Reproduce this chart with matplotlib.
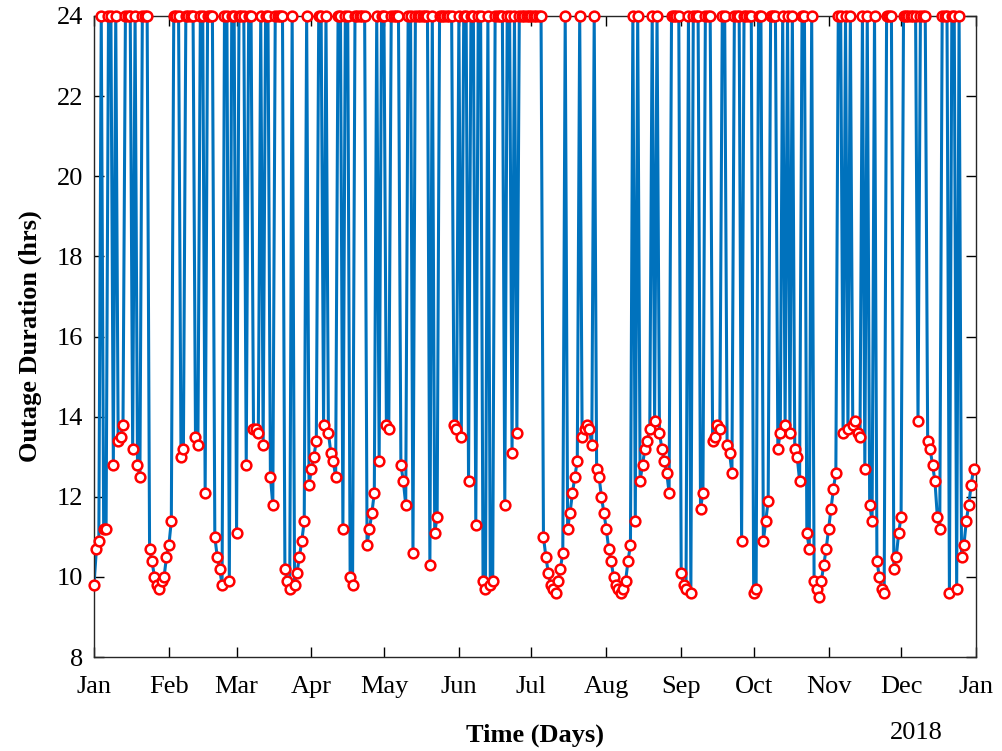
import numpy as np
import matplotlib
matplotlib.use("Agg")
import matplotlib.pyplot as plt

plt.rcParams['font.family'] = ['Liberation Serif', 'DejaVu Serif']

jan = [9.8, 10.7, 10.9, 24, 11.2, 11.2, 24, 24, 12.8, 24, 13.4, 13.5, 13.8, 24, 24, 24,
       13.2, 24, 12.8, 12.5, 24, 24, 24, 10.7, 10.4, 10.0, 9.8, 9.7, 9.9, 10.0, 10.5]
feb = [10.8, 11.4, 24, 24, 24, 13.0, 13.2, 24, 24, 24, 24, 13.5, 13.3, 24, 24, 12.1,
       24, 24, 24, 11.0, 10.5, 10.2, 9.8, 24, 24, 9.9, 24, 24]
mar = [11.1, 24, 24, 24, 12.8, 24, 24, 13.7, 13.7, 13.6, 24, 13.3, 24, 24, 12.5, 11.8,
       24, 24, 24, 24, 10.2, 9.9, 9.7, 24, 9.8, 10.1, 10.5, 10.9, 11.4, 24, 12.3]
apr = [12.7, 13.0, 13.4, 24, 24, 13.8, 24, 13.6, 13.1, 12.9, 12.5, 24, 24, 11.2, 24,
       24, 10.0, 9.8, 24, 24, 24, 24, 24, 10.8, 11.2, 11.6, 12.1, 24, 12.9, 24]
may = [24, 13.8, 13.7, 24, 24, 24, 24, 12.8, 12.4, 11.8, 24, 24, 10.6, 24, 24, 24,
       24, 24, 24, 10.3, 24, 11.1, 11.5, 24, 24, 24, 24, 24, 24, 13.8, 13.7]
jun = [24, 13.5, 24, 24, 12.4, 24, 24, 11.3, 24, 24, 9.9, 9.7, 24, 9.8, 9.9, 24,
       24, 24, 24, 11.8, 24, 24, 13.1, 24, 13.6, 24, 24, 24, 24, 24]
jul = [24, 24, 24, 24, 24, 11.0, 10.5, 10.1, 9.8, 9.7, 9.6, 9.9, 10.2, 10.6, 24, 11.2,
       11.6, 12.1, 12.5, 12.9, 24, 13.5, 13.7, 13.8, 13.7, 13.3, 24, 12.7, 12.5, 12.0, 11.6]
aug = [11.2, 10.7, 10.4, 10.0, 9.8, 9.7, 9.6, 9.7, 9.9, 10.4, 10.8, 24, 11.4, 24, 12.4,
       12.8, 13.2, 13.4, 13.7, 24, 13.9, 24, 13.6, 13.2, 12.9, 12.6, 12.1, 24, 24, 24, 24]
sep = [10.1, 9.8, 9.7, 24, 9.6, 24, 24, 24, 11.7, 12.1, 24, 24, 24, 13.4, 13.5, 13.8,
       13.7, 24, 24, 13.3, 13.1, 12.6, 24, 24, 24, 10.9, 24, 24, 24, 24]
oct_ = [9.6, 9.7, 24, 24, 10.9, 11.4, 11.9, 24, 24, 24, 13.2, 13.6, 24, 13.8, 24, 13.6,
        24, 13.2, 13.0, 12.4, 24, 24, 11.1, 10.7, 24, 9.9, 9.7, 9.5, 9.9, 10.3, 10.7]
nov = [11.2, 11.7, 12.2, 12.6, 24, 24, 13.6, 24, 13.7, 24, 13.8, 13.9, 13.6, 13.5, 24,
       12.7, 24, 11.8, 11.4, 24, 10.4, 10.0, 9.7, 9.6, 24, 24, 24, 10.2, 10.5, 11.1]
dec = [11.5, 24, 24, 24, 24, 24, 24, 13.9, 24, 24, 24, 13.4, 13.2, 12.8, 12.4, 11.5,
       11.2, 24, 24, 24, 9.6, 24, 24, 9.7, 24, 10.5, 10.8, 11.4, 11.8, 12.3, 12.7]

month_labels = ['Jan', 'Feb', 'Mar', 'Apr', 'May', 'Jun', 'Jul', 'Aug', 'Sep',
                'Oct', 'Nov', 'Dec', 'Jan']
month_starts = [0, 31, 59, 90, 120, 151, 181, 212, 243, 273, 304, 334, 365]
yticks = [8, 10, 12, 14, 16, 18, 20, 22, 24]

duration = np.array(jan + feb + mar + apr + may + jun + jul + aug + sep + oct_ + nov + dec)
days = np.arange(len(duration))

fig = plt.figure(figsize=(10.03, 7.51), dpi=100)
ax = fig.add_axes([94/1003, 1-657/751, (976-94)/1003, (657-16)/751])

ax.plot(days, duration, color='#0072BD', linewidth=2.2, zorder=2)
ax.plot(days, duration, linestyle='none', marker='o', markersize=7,
        markeredgecolor='red', markerfacecolor='white', markeredgewidth=1.8,
        clip_on=False, zorder=3)

ax.set_xlim(0, 365)
ax.set_ylim(8, 24)
ax.set_xticks(month_starts)
ax.set_xticklabels(month_labels)
ax.set_yticks(yticks)
ax.tick_params(direction='in', length=7, width=1, top=True, right=True,
               labelsize=19)
ax.tick_params(axis='x', pad=14)
ax.tick_params(axis='y', pad=8)
for s in ax.spines.values():
    s.set_linewidth(1.0)
    s.set_color('#262626')

ax.set_ylabel('Outage Duration (hrs)', fontsize=19, fontweight='bold', labelpad=10)
fig.text(535/1003, 1-735/751, 'Time (Days)', fontsize=19, fontweight='bold',
         ha='center', va='center')
fig.text(916/1003, 1-733/751, '2018', fontsize=19, ha='center', va='center')

fig.savefig('out.png', dpi=100, facecolor='white')
